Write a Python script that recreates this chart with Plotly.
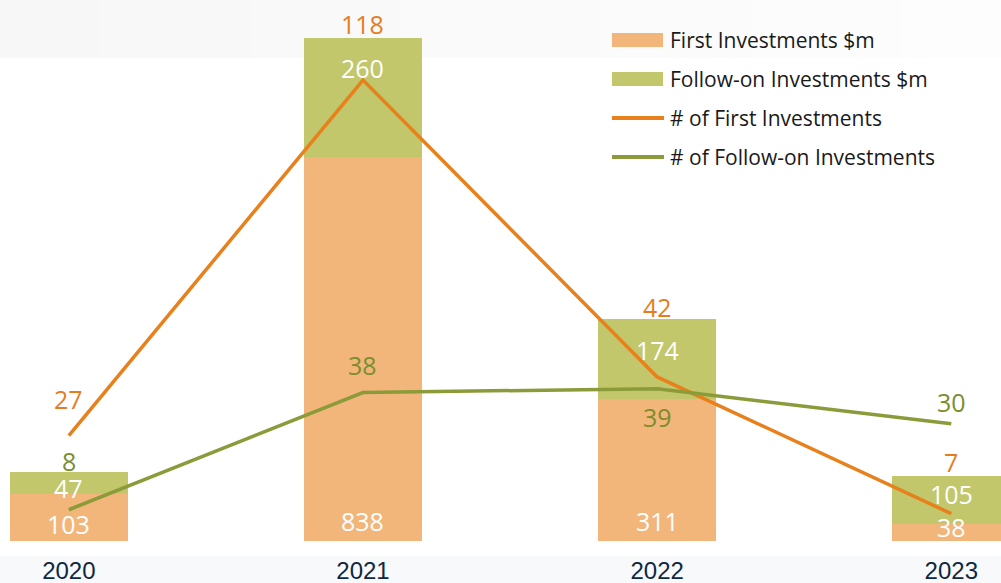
import plotly.graph_objects as go

# Investment amounts ($m) and deal counts by year
years = ["2020", "2021", "2022", "2023"]
first_amount = [103, 838, 311, 38]
follow_amount = [47, 260, 174, 105]
first_count = [27, 118, 42, 7]
follow_count = [8, 38, 39, 30]

# Label placement (pixel offsets)
first_amount_shift = [17, 20, 20, 14]       # above the bar base
follow_amount_shift = [-16, -30, -31, -18]  # below the stack top
first_count_shift = [37, 56, 70, 52]        # above the line point
follow_count_shift = [49, 28, -28, 22]

C_FIRST_BAR = "#F2B67B"
C_FOLLOW_BAR = "#C1C76A"
C_FIRST_LINE = "#E8801C"
C_FOLLOW_LINE = "#8C9B3A"
C_FIRST_TXT = "#E67C1F"
C_FOLLOW_TXT = "#7D8D2C"
FONT = "Open Sans"

fig = go.Figure()
fig.add_trace(go.Bar(x=years, y=first_amount, name="First Investments $m",
                     marker=dict(color=C_FIRST_BAR, line=dict(width=0)),
                     width=0.4, showlegend=False, hoverinfo="skip"))
fig.add_trace(go.Bar(x=years, y=follow_amount, name="Follow-on Investments $m",
                     marker=dict(color=C_FOLLOW_BAR, line=dict(width=0)),
                     width=0.4, showlegend=False, hoverinfo="skip"))
fig.add_trace(go.Scatter(x=years, y=first_count, name="# of First Investments",
                         mode="lines", yaxis="y2",
                         line=dict(color=C_FIRST_LINE, width=3.5),
                         showlegend=False, hoverinfo="skip"))
fig.add_trace(go.Scatter(x=years, y=follow_count, name="# of Follow-on Investments",
                         mode="lines", yaxis="y2",
                         line=dict(color=C_FOLLOW_LINE, width=3.5),
                         showlegend=False, hoverinfo="skip"))

# Value labels; x given as the category index
annotations = []
for i, yr in enumerate(years):
    annotations.append(dict(x=i, y=0, xref="x", yref="y", text=str(first_amount[i]),
                            showarrow=False, yanchor="middle", yshift=first_amount_shift[i],
                            font=dict(family=FONT, size=25, color="white")))
    annotations.append(dict(x=i, y=first_amount[i] + follow_amount[i], xref="x", yref="y",
                            text=str(follow_amount[i]), showarrow=False, yanchor="middle",
                            yshift=follow_amount_shift[i],
                            font=dict(family=FONT, size=25, color="white")))
    annotations.append(dict(x=i, y=first_count[i], xref="x", yref="y2",
                            text=str(first_count[i]), showarrow=False, yanchor="middle",
                            yshift=first_count_shift[i],
                            font=dict(family=FONT, size=25, color=C_FIRST_TXT)))
    annotations.append(dict(x=i, y=follow_count[i], xref="x", yref="y2",
                            text=str(follow_count[i]), showarrow=False, yanchor="middle",
                            yshift=follow_count_shift[i],
                            font=dict(family=FONT, size=25, color=C_FOLLOW_TXT)))

# Background bands: soft grey header fading to the right, pale footer
shapes = []
PH = 541.0
n_slices = 20
for k in range(n_slices):
    t = k / (n_slices - 1)
    g = int(round(247 + t * 6))
    shapes.append(dict(type="rect", xref="paper", yref="paper",
                       x0=k / n_slices, x1=(k + 1) / n_slices + 0.001,
                       y0=1 - 58 / PH, y1=1.0, layer="below",
                       fillcolor=f"rgb({g},{g},{g})", line=dict(width=0)))
shapes.append(dict(type="rect", xref="paper", yref="paper", x0=0, x1=1,
                   y0=-(583 - PH) / PH, y1=-(556 - PH) / PH, layer="below",
                   fillcolor="#F8F9FA", line=dict(width=0)))

# Legend drawn as swatches and labels
W = 1001.0
legend_items = [
    ("rect", C_FIRST_BAR, "First Investments $m", 40),
    ("rect", C_FOLLOW_BAR, "Follow-on Investments $m", 79),
    ("line", C_FIRST_LINE, "# of First Investments", 118),
    ("line", C_FOLLOW_LINE, "# of Follow-on Investments", 157),
]
for kind, col, label, ypx in legend_items:
    yc = 1 - ypx / PH
    if kind == "rect":
        shapes.append(dict(type="rect", xref="paper", yref="paper",
                           x0=612 / W, x1=663 / W, y0=yc - 7 / PH, y1=yc + 7 / PH,
                           fillcolor=col, line=dict(width=0)))
    else:
        shapes.append(dict(type="line", xref="paper", yref="paper",
                           x0=612 / W, x1=664 / W, y0=yc, y1=yc,
                           line=dict(color=col, width=4)))
    annotations.append(dict(x=668 / W, y=yc, xref="paper", yref="paper", text=label,
                            showarrow=False, xanchor="left", yanchor="middle",
                            font=dict(family=FONT, size=21, color="#1A1A1A")))

fig.update_layout(
    width=1001, height=583,
    margin=dict(l=0, r=0, t=0, b=42),
    barmode="stack",
    paper_bgcolor="white",
    plot_bgcolor="rgba(0,0,0,0)",
    font=dict(family=FONT),
    xaxis=dict(type="category", range=[-0.234, 3.169], showgrid=False, zeroline=False,
               showline=False, ticks="outside", ticklen=8, tickcolor="rgba(0,0,0,0)",
               automargin=False,
               tickfont=dict(family="Liberation Sans, Arial", size=24, color="#0E2841")),
    yaxis=dict(range=[0, 1181.7], visible=False, showgrid=False, zeroline=False,
               automargin=False),
    yaxis2=dict(range=[0, 138.5], visible=False, overlaying="y", showgrid=False,
                zeroline=False, automargin=False),
    shapes=shapes,
    annotations=annotations,
    hovermode=False,
)

fig.write_html("out.html", config={"displayModeBar": False})
